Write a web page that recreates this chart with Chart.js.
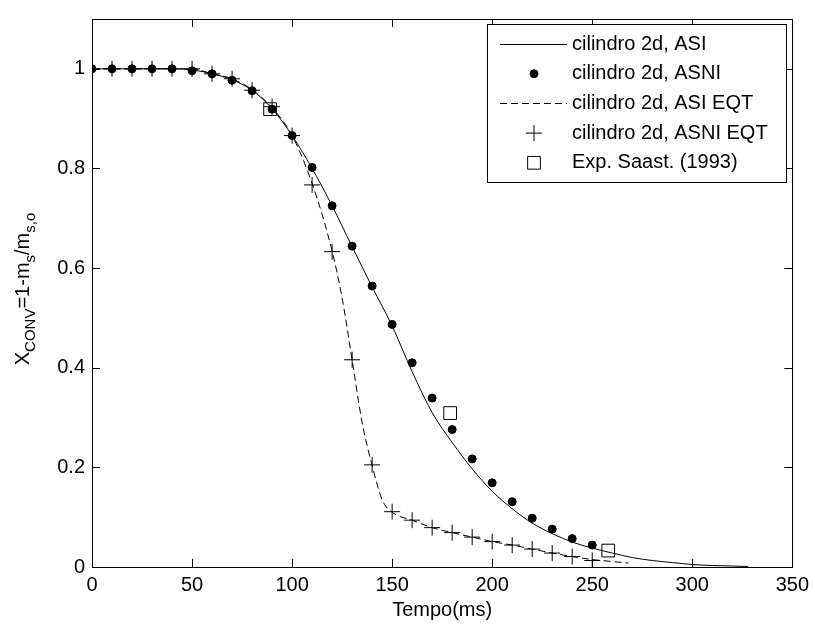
<!DOCTYPE html>
<html>
<head>
<meta charset="utf-8">
<script src="https://cdn.jsdelivr.net/npm/chart.js@4"></script>
<style>
  body { margin: 0; background: #fff; }
</style>
</head>
<body>
<canvas id="conversionChart" width="815" height="624"></canvas>
<script>
// Values (time in ms, X_CONV)
const asiTime = [0, 10, 20, 30, 40, 50, 60, 70, 80, 90, 100, 110, 120, 130, 140, 150, 160, 170, 180, 190, 200, 210, 220, 230, 240, 250, 260, 270, 280, 290, 300, 310, 320, 328];
const asiValues = [1, 1, 1, 1, 1, 0.998, 0.99, 0.978, 0.957, 0.92, 0.866, 0.8, 0.725, 0.643, 0.562, 0.484, 0.392, 0.31, 0.25, 0.197, 0.152, 0.117, 0.088, 0.067, 0.05, 0.038, 0.028, 0.019, 0.013, 0.009, 0.005, 0.003, 0.002, 0.001];

const asniTime = [0, 10, 20, 30, 40, 50, 60, 70, 80, 90, 100, 110, 120, 130, 140, 150, 160, 170, 180, 190, 200, 210, 220, 230, 240, 250];
const asniValues = [1, 1, 1, 1, 1, 0.996, 0.99, 0.977, 0.956, 0.919, 0.866, 0.802, 0.725, 0.644, 0.564, 0.487, 0.41, 0.339, 0.276, 0.217, 0.169, 0.131, 0.098, 0.076, 0.057, 0.044];

const asiEqtTime = [0, 10, 20, 30, 40, 50, 60, 70, 80, 90, 100, 110, 120, 125, 130, 135, 140, 145, 150, 160, 170, 180, 190, 200, 210, 220, 230, 240, 250, 260, 268];
const asiEqtValues = [1, 1, 1, 1, 1, 1, 0.99, 0.98, 0.958, 0.922, 0.866, 0.77, 0.634, 0.54, 0.416, 0.29, 0.204, 0.135, 0.11, 0.094, 0.079, 0.069, 0.06, 0.051, 0.044, 0.036, 0.028, 0.021, 0.015, 0.011, 0.008];

const asniEqtTime = [0, 10, 20, 30, 40, 50, 60, 70, 80, 90, 100, 110, 120, 130, 140, 150, 160, 170, 180, 190, 200, 210, 220, 230, 240, 250];
const asniEqtValues = [1, 1, 1, 1, 1, 1, 0.99, 0.98, 0.957, 0.924, 0.866, 0.767, 0.633, 0.416, 0.205, 0.111, 0.094, 0.079, 0.069, 0.06, 0.051, 0.044, 0.036, 0.028, 0.021, 0.013];

const expTime = [89, 179, 258];
const expValues = [0.919, 0.309, 0.033];

const seriesLabels = ['cilindro 2d, ASI', 'cilindro 2d, ASNI', 'cilindro 2d, ASI EQT', 'cilindro 2d, ASNI EQT', 'Exp. Saast. (1993)'];
const xTicks = [0, 50, 100, 150, 200, 250, 300, 350];
const yTicks = [0, 0.2, 0.4, 0.6, 0.8, 1];

const toPoints = (xs, ys) => xs.map((x, i) => ({ x: x, y: ys[i] }));

const FONT = '"Liberation Sans", Arial, Helvetica, sans-serif';
Chart.defaults.font.family = FONT;
Chart.defaults.font.size = 20;
Chart.defaults.color = '#000';

// Box, inward ticks, legend and axis titles drawn like the original figure
const framePlugin = {
    id: 'frame',
    afterDraw(chart) {
        const { ctx, chartArea: a, scales } = chart;
        ctx.save();
        ctx.strokeStyle = '#000';
        ctx.lineWidth = 1;

        // ticks pointing inward on all four sides
        const tl = 8;
        ctx.beginPath();
        xTicks.forEach(v => {
            const px = Math.round(scales.x.getPixelForValue(v)) + 0.5;
            ctx.moveTo(px, a.bottom); ctx.lineTo(px, a.bottom - tl);
            ctx.moveTo(px, a.top); ctx.lineTo(px, a.top + tl);
        });
        yTicks.forEach(v => {
            const py = Math.round(scales.y.getPixelForValue(v)) + 0.5;
            ctx.moveTo(a.left, py); ctx.lineTo(a.left + tl, py);
            ctx.moveTo(a.right, py); ctx.lineTo(a.right - tl, py);
        });
        ctx.stroke();
        ctx.strokeRect(Math.round(a.left) + 0.5, Math.round(a.top) + 0.5,
            Math.round(a.right - a.left), Math.round(a.bottom - a.top));

        // legend
        const lx = 487, ly = 24, lw = 299, lh = 158;
        ctx.fillStyle = '#fff';
        ctx.fillRect(lx, ly, lw, lh);
        ctx.strokeRect(lx + 0.5, ly + 0.5, lw, lh);
        ctx.font = '20px ' + FONT;
        ctx.textBaseline = 'middle';
        ctx.textAlign = 'left';
        chart.data.datasets.forEach((ds, i) => {
            const y = ly + 20 + i * 29.7;
            if (ds.showLine) {
                ctx.save();
                ctx.setLineDash(ds.borderDash || []);
                ctx.beginPath();
                ctx.moveTo(500, Math.round(y) + 0.5);
                ctx.lineTo(567, Math.round(y) + 0.5);
                ctx.stroke();
                ctx.restore();
            } else {
                ctx.save();
                ctx.fillStyle = ds.pointBackgroundColor;
                ctx.strokeStyle = ds.pointBorderColor;
                ctx.lineWidth = 1;
                Chart.helpers.drawPoint(ctx, {
                    pointStyle: ds.pointStyle, radius: ds.pointRadius, rotation: 0, borderWidth: 1
                }, 534, y);
                ctx.restore();
            }
            ctx.fillStyle = '#000';
            ctx.fillText(ds.label, 572, y);
        });

        // x title
        ctx.textAlign = 'center';
        ctx.fillText('Tempo(ms)', (a.left + a.right) / 2, 610);

        // y title with subscripts
        const parts = [
            ['X', false], ['CONV', true], ['=1-m', false], ['s', true], ['/m', false], ['s,o', true]
        ];
        const mainFont = '20px ' + FONT, subFont = '15px ' + FONT;
        let total = 0;
        parts.forEach(p => { ctx.font = p[1] ? subFont : mainFont; total += ctx.measureText(p[0]).width; });
        ctx.translate(29, 289);
        ctx.rotate(-Math.PI / 2);
        ctx.textAlign = 'left';
        ctx.textBaseline = 'alphabetic';
        let cx = -total / 2;
        parts.forEach(p => {
            ctx.font = p[1] ? subFont : mainFont;
            ctx.fillText(p[0], cx, p[1] ? 6 : 0);
            cx += ctx.measureText(p[0]).width;
        });
        ctx.restore();
    }
};

const ctx = document.getElementById('conversionChart').getContext('2d');

new Chart(ctx, {
    type: 'scatter',
    data: {
        datasets: [
            {
                label: seriesLabels[0],
                data: toPoints(asiTime, asiValues),
                showLine: true,
                borderColor: '#000',
                borderWidth: 1,
                pointRadius: 0,
                cubicInterpolationMode: 'monotone'
            },
            {
                label: seriesLabels[1],
                data: toPoints(asniTime, asniValues),
                showLine: false,
                pointStyle: 'circle',
                pointRadius: 4,
                pointBorderWidth: 1,
                pointBackgroundColor: '#000',
                pointBorderColor: '#000'
            },
            {
                label: seriesLabels[2],
                data: toPoints(asiEqtTime, asiEqtValues),
                showLine: true,
                borderColor: '#000',
                borderWidth: 1,
                borderDash: [7, 4],
                pointRadius: 0,
                cubicInterpolationMode: 'monotone'
            },
            {
                label: seriesLabels[3],
                data: toPoints(asniEqtTime, asniEqtValues),
                showLine: false,
                pointStyle: 'cross',
                pointRadius: 8,
                pointBorderWidth: 1,
                pointBackgroundColor: '#000',
                pointBorderColor: '#000'
            },
            {
                label: seriesLabels[4],
                data: toPoints(expTime, expValues),
                showLine: false,
                pointStyle: 'rect',
                pointRadius: 9,
                pointBorderWidth: 1,
                pointBackgroundColor: 'rgba(0,0,0,0)',
                pointBorderColor: '#000'
            }
        ]
    },
    options: {
        responsive: false,
        animation: false,
        layout: { padding: { top: 12, right: 20, left: 0, bottom: 0 } },
        plugins: {
            legend: { display: false },
            tooltip: { enabled: false }
        },
        scales: {
            x: {
                type: 'linear',
                min: 0,
                max: 350,
                grid: { display: false, drawTicks: false },
                border: { display: false },
                ticks: { stepSize: 50, padding: 6, maxRotation: 0 },
                afterFit: scale => { scale.height = 57; }
            },
            y: {
                type: 'linear',
                min: 0,
                max: 1.1,
                grid: { display: false, drawTicks: false },
                border: { display: false },
                ticks: {
                    stepSize: 0.2,
                    includeBounds: false,
                    padding: 7,
                    callback: v => +v.toFixed(1)
                },
                afterFit: scale => { scale.width = 92; }
            }
        }
    },
    plugins: [framePlugin]
});
</script>
</body>
</html>
